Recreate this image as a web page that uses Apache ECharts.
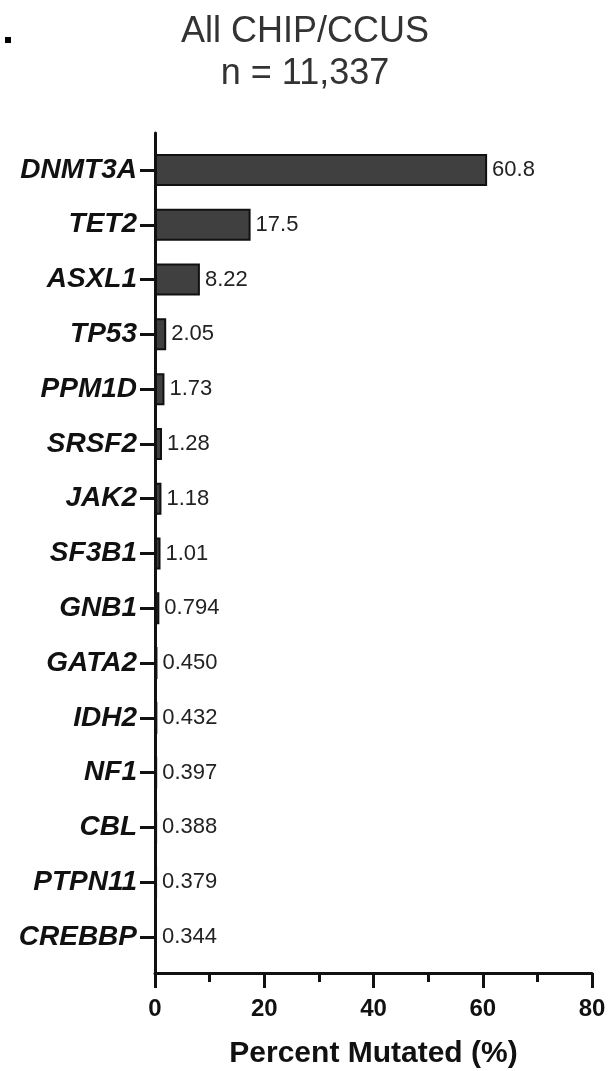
<!DOCTYPE html>
<html>
<head>
<meta charset="utf-8">
<script src="https://cdn.jsdelivr.net/npm/echarts@6/dist/echarts.min.js"></script>
<style>
html,body{margin:0;padding:0;background:#fff;}
#chart{width:610px;height:1071px;}
</style>
</head>
<body>
<div id="chart"></div>
<script>
const genes = ['DNMT3A','TET2','ASXL1','TP53','PPM1D','SRSF2','JAK2','SF3B1','GNB1','GATA2','IDH2','NF1','CBL','PTPN11','CREBBP'];
const percentMutated = [60.8, 17.5, 8.22, 2.05, 1.73, 1.28, 1.18, 1.01, 0.794, 0.450, 0.432, 0.397, 0.388, 0.379, 0.344];
const xTicks = [0, 20, 40, 60, 80];
const titleLines = ['All CHIP/CCUS', 'n = 11,337'];
const xAxisTitle = 'Percent Mutated (%)';

const FONT = '"Liberation Sans", Arial, Helvetica, sans-serif';
const chart = echarts.init(document.getElementById('chart'), null, {renderer: 'canvas'});

const option = {
  backgroundColor: '#ffffff',
  animation: false,
  title: {
    text: titleLines.join('\n'),
    left: 'center',
    top: 6,
    textStyle: {fontFamily: FONT, fontSize: 36, fontWeight: 'normal', color: '#333333', lineHeight: 42}
  },
  graphic: [{
    type: 'rect', left: 5, top: 37, shape: {width: 6, height: 6}, style: {fill: '#000'}
  }],
  grid: [
    {left: 155, right: 18, top: 142.6, bottom: 106.6, containLabel: false, outerBoundsMode: 'none'},
    {left: 155, right: 18, top: 133, bottom: 98, containLabel: false, outerBoundsMode: 'none'}
  ],
  xAxis: [
    {gridIndex: 0, type: 'value', min: xTicks[0], max: xTicks[xTicks.length - 1], show: false},
    {
      gridIndex: 1, type: 'value', min: xTicks[0], max: xTicks[xTicks.length - 1], interval: 20,
      axisLine: {show: true, onZero: false, lineStyle: {color: '#111', width: 3}},
      axisTick: {show: true, length: 15, lineStyle: {color: '#111', width: 3}},
      minorTick: {show: true, splitNumber: 2, length: 9, lineStyle: {color: '#111', width: 3}},
      splitLine: {show: false},
      axisLabel: {show: true, margin: 24, fontFamily: FONT, fontSize: 24, fontWeight: 'bold', color: '#111',
        formatter: v => xTicks.indexOf(v) >= 0 ? String(v) : ''},
      name: xAxisTitle, nameLocation: 'middle', nameGap: 66,
      nameTextStyle: {fontFamily: FONT, fontSize: 30, fontWeight: 'bold', color: '#111'}
    }
  ],
  yAxis: [
    {
      gridIndex: 0, type: 'category', data: genes, inverse: true,
      axisLine: {show: false},
      axisTick: {show: true, alignWithLabel: true, length: 15, lineStyle: {color: '#111', width: 3}},
      axisLabel: {margin: 18, fontFamily: FONT, fontSize: 28, fontWeight: 'bold', fontStyle: 'italic', color: '#111'},
      splitLine: {show: false}
    },
    {
      gridIndex: 1, type: 'value', min: 0, max: 1,
      axisLine: {show: true, onZero: false, lineStyle: {color: '#111', width: 3}},
      axisTick: {show: false}, axisLabel: {show: false}, splitLine: {show: false}
    }
  ],
  series: [{
    type: 'bar',
    xAxisIndex: 0, yAxisIndex: 0,
    data: percentMutated,
    barWidth: 32,
    itemStyle: {color: '#404040', borderColor: '#111', borderWidth: 2},
    label: {
      show: true, position: 'right', distance: 5,
      fontFamily: FONT, fontSize: 22, color: '#222',
      formatter: p => Number(p.value).toPrecision(3)
    }
  }]
};
chart.setOption(option);
</script>
</body>
</html>
